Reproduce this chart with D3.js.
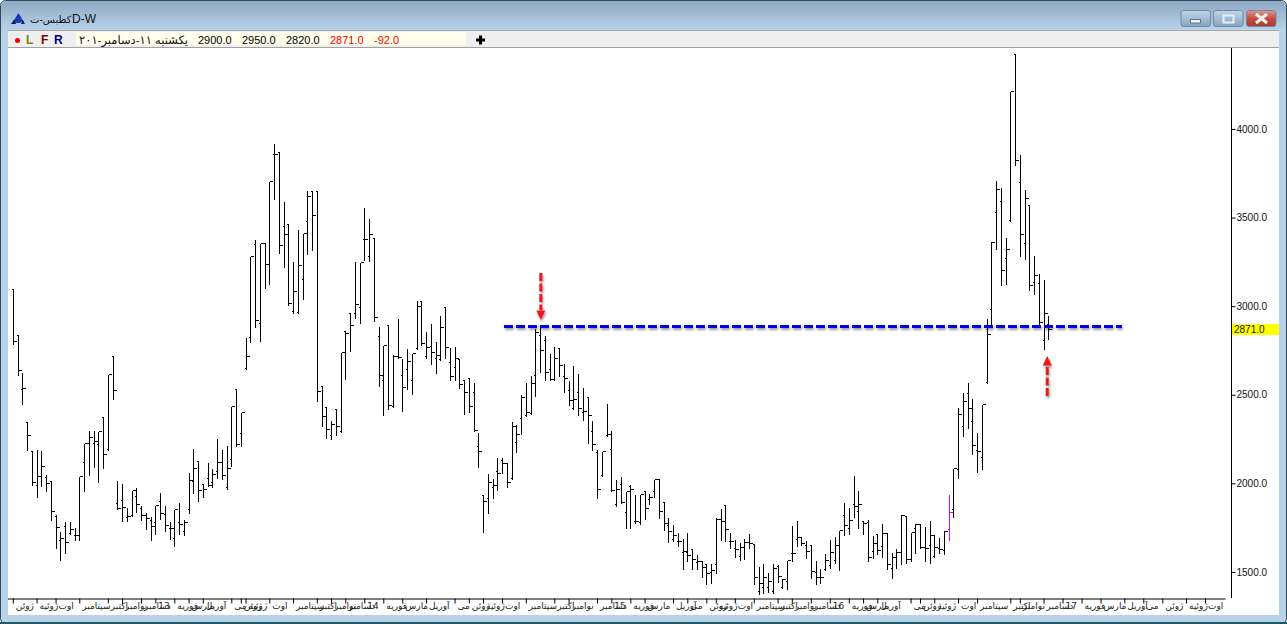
<!DOCTYPE html>
<html>
<head>
<meta charset="utf-8">
<title>D-W</title>
<script src="https://cdn.jsdelivr.net/npm/d3@7"></script>
<style>
  html, body { margin: 0; padding: 0; background: #fff; overflow: hidden; }
  svg { display: block; font-family: "Liberation Sans", "DejaVu Sans", sans-serif; }
</style>
</head>
<body>
<svg width="1287" height="624"></svg>
<script>
// weekly bars
const opens = [3095,2835,2532,2344,2183,1989,2040,2034,2011,1814,1678,1757,1718,1707,1707,2119,2226,2226,2220,2373,2192,2717,1887,1904,1808,1820,1927,1859,1820,1791,
  1780,1899,1825,1746,1690,1780,1729,1853,2011,2124,1995,2028,2006,2068,2119,1978,2136,2531,2282,2649,
  2824,3353,2903,3354,3236,3857,3868,3450,3462,2971,2965,3151,3479,3648,3648,2547,2429,2271,2418,2294,
  2858,2959,2959,2993,3377,3281,3383,2830,2581,2892,2435,2717,2610,2643,2581,2762,3027,2717,2773,2705,
  2700,2993,2683,2655,2700,2581,2593,2514,2210,1933,1916,1978,2068,2131,2114,2029,2232,2368,2384,2396,
  2610,2836,2808,2644,2588,2763,2605,2526,2424,2514,2401,2486,2294,2176,2046,2272,2193,1882,1995,1837,
  1984,1786,1781,1956,1910,1956,2023,1893,1764,1685,1673,1611,1611,1628,1555,1562,1543,1502,1543,1797,
  1876,1673,1635,1592,1639,1667,1656,1395,1417,1417,1391,1534,1417,1447,1605,1684,1699,1652,1652,1502,
  1470,1515,1538,1568,1650,1822,1746,1884,1844,1790,1784,1618,1714,1649,1722,1521,1583,1615,1816,1575,
  1746,1771,1643,1652,1592,1634,1624,1743,1854,2081,2322,2508,2350,2186,2147,2572,2982,3530,3592,3270,
  3485,4421,3699,3355,3569,3135,3129,2807,2900];
const highs = [3095,2835,2627,2344,2183,2192,2186,2051,2011,1825,1729,1786,1786,1752,2040,2226,2299,2299,2294,2373,2615,2717,2017,2000,1865,1961,1978,1876,1837,1814,
  1876,1949,1876,1786,1853,1893,1797,2062,2198,2128,1995,2119,2085,2254,2192,2215,2435,2531,2401,2824,
  3281,3377,3354,3354,3704,3919,3868,3591,3462,3253,3433,3411,3654,3648,3648,2547,2429,2356,2418,2739,
  2858,2959,3253,3247,3558,3496,3383,2886,2779,2892,2728,2931,2705,2762,2734,3033,3027,2858,2903,2801,
  2948,2993,2768,2773,2700,2581,2593,2571,2289,1933,2057,2029,2147,2147,2114,2351,2334,2503,2571,2610,
  2875,2887,2836,2734,2774,2763,2678,2582,2667,2621,2542,2486,2356,2193,2181,2452,2300,2023,2040,1956,
  1995,1940,1939,1956,1944,2023,2023,1893,1809,1769,1724,1690,1724,1628,1600,1562,1549,1549,1812,1859,
  1876,1728,1686,1667,1694,1718,1662,1534,1549,1502,1549,1545,1464,1568,1765,1792,1699,1681,1652,1568,
  1521,1605,1686,1703,1737,1895,1869,2047,1963,1790,1797,1709,1714,1775,1722,1615,1634,1827,1816,1728,
  1775,1771,1760,1792,1714,1699,1737,1940,2085,2429,2514,2570,2480,2288,2446,2931,3369,3710,3671,3389,
  4213,4421,3857,3660,3569,3287,3186,3152,2950];
const lows = [2790,2615,2452,2192,1995,1931,1993,1964,1801,1643,1571,1615,1718,1688,1684,1964,2055,2100,2015,2090,2192,2480,1859,1791,1791,1820,1842,1797,1746,1684,
  1718,1803,1735,1694,1650,1718,1712,1837,1949,1904,1927,1989,1983,2034,2028,1972,2102,2215,2215,2649,
  2801,2888,2809,3110,3133,3612,3304,3228,3010,2969,2965,3048,3302,3324,2472,2327,2260,2254,2277,2294,
  2596,2754,2937,2909,3264,3259,2920,2557,2393,2423,2435,2711,2412,2536,2508,2762,2785,2711,2677,2627,
  2700,2711,2587,2587,2542,2395,2406,2300,2100,1730,1837,1922,1967,2063,1984,2029,2181,2283,2384,2396,
  2497,2633,2588,2588,2588,2610,2520,2447,2424,2390,2362,2232,2193,1922,2046,2272,1961,1877,1893,1752,
  1752,1781,1775,1803,1888,1927,1809,1741,1673,1679,1651,1521,1566,1521,1521,1479,1436,1445,1502,1688,
  1679,1639,1592,1575,1581,1639,1436,1383,1387,1395,1389,1449,1413,1412,1568,1654,1658,1585,1474,1440,
  1442,1515,1530,1558,1515,1714,1718,1818,1752,1718,1568,1587,1605,1590,1521,1474,1530,1553,1558,1568,
  1615,1639,1568,1558,1590,1615,1609,1686,1818,2038,2275,2316,2169,2068,2085,2572,2899,3327,3124,3133,
  3485,3801,3287,3270,3095,3073,2903,2766,2820];
const closes = [2805,2638,2536,2271,2006,2043,2096,2000,1842,1752,1690,1667,1741,1707,2040,2226,2260,2237,2294,2164,2615,2525,1859,1865,1814,1961,1882,1820,1803,1757,
  1876,1831,1763,1746,1853,1769,1780,2017,2085,1961,1966,1989,2051,2119,2045,2085,2435,2220,2401,2717,
  3281,2920,3354,3236,3704,3857,3343,3405,3016,3084,3230,3411,3620,3512,2519,2378,2305,2333,2322,2739,
  2847,2892,3010,3247,3377,3405,2937,2610,2779,2440,2717,2711,2542,2689,2734,2999,2790,2768,2739,2722,
  2880,2768,2604,2705,2559,2514,2435,2300,2181,1899,2006,1989,2057,2114,2006,2322,2277,2486,2401,2565,
  2857,2751,2627,2588,2706,2667,2593,2469,2475,2424,2407,2384,2221,1967,2181,2277,1961,1967,1893,1956,
  1967,1786,1939,1860,1922,2023,1843,1775,1730,1707,1673,1617,1594,1572,1561,1526,1492,1511,1797,1786,
  1741,1673,1628,1639,1667,1662,1470,1436,1474,1451,1521,1479,1459,1568,1605,1699,1666,1618,1506,1470,
  1470,1568,1611,1650,1737,1765,1793,1874,1884,1775,1587,1662,1624,1722,1545,1583,1615,1822,1575,1728,
  1771,1643,1634,1709,1639,1628,1733,1840,2085,2389,2463,2423,2214,2181,2446,2841,3360,3660,3202,3321,
  4213,3823,3406,3608,3118,3174,2909,2960,2871];
const highlightBar = 197;

// y axis
const priceTicks = [1500, 2000, 2500, 3000, 3500, 4000];
const lastPrice = 2871;

// month ticks: bar number and label
const tickBars = [0,5,9,14,20,23,27,30,34,37,40,46,48,49,54,59,64,67,70,74,78,82,87,93,96,99,103,108,114,117,123,126,130,133,139,142,146,148,152,156,161,164,168,172,176,179,182,189,191,194,199,203,210,212,217,221,225,229,234,238,242,247,251];
const tickLabels = ['ژوئن','ژوئیه','اوت','سپتامبر','اکتبر','نوامبر','دسامبر','13','فوریه','مارس','آوریل','می',
  'ژوئن','ژوئیه','اوت','سپتامبر','اکتبر','نوامبر','دسامبر','14','فوریه','مارس','آوریل','می',
  'ژوئن','ژوئیه','اوت','سپتامبر','اکتبر','نوامبر','دسامبر','15','فوریه','مارس','آوریل','می',
  'ژوئن','ژوئیه','اوت','سپتامبر','اکتبر','نوامبر','دسامبر','16','فوریه','مارس','آوریل','می',
  'ژوئن','ژوئیه','اوت','سپتامبر','اکتبر','نوامبر','دسامبر','17','فوریه','مارس','آوریل','می',
  'ژوئن','ژوئیه','اوت'];

// annotations drawn on top of the chart
const levelPrice = 2885;
const levelBars = [103.3, 233.4];
const arrowDown = { bar: 111, from: 3187, to: 2922 };
const arrowUp = { bar: 217.6, from: 2493, to: 2719 };

const headerValues = ['2900.0', '2950.0', '2820.0', '2871.0', '-92.0'];
const headerColors = ['#000', '#000', '#000', '#f00', '#f00'];

const svg = d3.select('svg');

const defs = svg.append('defs');
const titleGrad = defs.append('linearGradient').attr('id', 'titleGrad').attr('x1', 0).attr('x2', 0).attr('y1', 0).attr('y2', 1);
titleGrad.append('stop').attr('offset', '0%').attr('stop-color', '#8fa9c4');
titleGrad.append('stop').attr('offset', '100%').attr('stop-color', '#b8d2ea');
const btnGrad = defs.append('linearGradient').attr('id', 'btnGrad').attr('x1', 0).attr('x2', 0).attr('y1', 0).attr('y2', 1);
btnGrad.append('stop').attr('offset', '0%').attr('stop-color', '#c3d5e6');
btnGrad.append('stop').attr('offset', '50%').attr('stop-color', '#a4bdd6');
btnGrad.append('stop').attr('offset', '100%').attr('stop-color', '#86a3c0');
const closeGrad = defs.append('linearGradient').attr('id', 'closeGrad').attr('x1', 0).attr('x2', 0).attr('y1', 0).attr('y2', 1);
closeGrad.append('stop').attr('offset', '0%').attr('stop-color', '#dd9a8e');
closeGrad.append('stop').attr('offset', '50%').attr('stop-color', '#c54f3d');
closeGrad.append('stop').attr('offset', '100%').attr('stop-color', '#a83a2a');
const shadow = defs.append('filter').attr('id', 'shadow')
  .attr('filterUnits', 'userSpaceOnUse').attr('x', 0).attr('y', 0).attr('width', 1287).attr('height', 624);
shadow.append('feDropShadow').attr('dx', 1).attr('dy', 2).attr('stdDeviation', 1.3).attr('flood-color', '#000').attr('flood-opacity', 0.4);

// ---- window frame
svg.append('rect').attr('x', 0.5).attr('y', 0.5).attr('width', 1286).attr('height', 623).attr('rx', 5)
  .attr('fill', '#b8d2ea').attr('stroke', '#2f4a57');
svg.append('path').attr('d', 'M1,30V6Q1,1 6,1H1281Q1286,1 1286,6V30Z').attr('fill', 'url(#titleGrad)');
svg.append('rect').attr('x', 8).attr('y', 48).attr('width', 1271).attr('height', 567).attr('fill', '#fff');
svg.append('rect').attr('x', 0).attr('y', 622).attr('width', 1287).attr('height', 2).attr('fill', '#1f5a66');

// title
svg.append('path').attr('d', 'M18.5,13C20,16 22,17 22,20.5C22,22 21,23 18,23C15,23 14.5,22 14.5,20.5C14.5,18 17,16 18.5,13Z').attr('fill', '#1b38b8');
svg.append('path').attr('d', 'M11,24L14.5,19L16,24ZM21,24L22.5,19L25,24Z').attr('fill', '#10205c');
svg.append('text').attr('x', 30).attr('y', 23).attr('font-size', 10).attr('fill', '#111').text('کطبس-ت');
svg.append('text').attr('x', 72).attr('y', 23).attr('font-size', 12).attr('fill', '#111').text('D-W');

// window buttons
[[1181, 'url(#btnGrad)'], [1213.5, 'url(#btnGrad)'], [1246.5, 'url(#closeGrad)']].forEach(b => {
  svg.append('rect').attr('x', b[0]).attr('y', 10.5).attr('width', 29.5).attr('height', 16).attr('rx', 2.5)
    .attr('fill', b[1]).attr('stroke', '#6f8aa5');
});
svg.append('rect').attr('x', 1190.5).attr('y', 19.5).attr('width', 10).attr('height', 3.5).attr('fill', '#eef2f6').attr('stroke', '#5f7690');
svg.append('rect').attr('x', 1223.5).attr('y', 15.5).attr('width', 10).attr('height', 7).attr('fill', 'none').attr('stroke', '#e8eef4').attr('stroke-width', 2);
svg.append('path').attr('d', 'M1256,14L1267,23M1267,14L1256,23').attr('stroke', '#f2f2f2').attr('stroke-width', 3);

// ---- tool strip
svg.append('rect').attr('x', 8).attr('y', 31).attr('width', 1271).attr('height', 16).attr('fill', '#efefef');
svg.append('line').attr('x1', 8).attr('x2', 1279).attr('y1', 30.5).attr('y2', 30.5).attr('stroke', '#a8a8a8');
svg.append('line').attr('x1', 8).attr('x2', 1279).attr('y1', 47.5).attr('y2', 47.5).attr('stroke', '#a0a0a0');
svg.append('rect').attr('x', 76).attr('y', 32).attr('width', 390).attr('height', 13).attr('fill', '#ffffec');
svg.append('circle').attr('cx', 17.5).attr('cy', 40.5).attr('r', 2.5).attr('fill', '#f00000');
[['L', 26, '#808000'], ['F', 41, '#800000'], ['R', 54, '#000080']].forEach(t => {
  svg.append('text').attr('x', t[1]).attr('y', 44).attr('font-size', 12).attr('font-weight', 'bold').attr('fill', t[2]).text(t[0]);
});
svg.append('text').attr('x', 188).attr('y', 44).attr('font-size', 11.5).attr('fill', '#111')
  .style('direction', 'rtl').text('یکشنبه ١١-دسامبر-٢٠١');
svg.selectAll('.header-value')
  .data(headerValues)
  .enter()
  .append('text')
  .attr('class', 'header-value')
  .attr('x', (d, i) => 198 + i * 44)
  .attr('y', 44)
  .attr('font-size', 11)
  .attr('fill', (d, i) => headerColors[i])
  .text(d => d);
svg.append('path').attr('d', 'M480.5,35.5V44.5M476,40H485').attr('stroke', '#000').attr('stroke-width', 3);

// ---- scales
const x = d3.scaleLinear().domain([0, 253]).range([13.3, 1215.05]);
const y = d3.scaleLinear().domain([1353, 4457]).range([598, 48]);
const barX = i => Math.floor(x(i)) + 0.5;
const priceY = v => Math.round(y(v)) + 0.5;

// ---- axes
const xAxis = d3.axisBottom(x).tickValues(tickBars).tickSize(5).tickFormat((d, i) => tickLabels[i]);
const gx = svg.append('g').attr('transform', 'translate(0,598.5)').call(xAxis);
gx.select('.domain').attr('d', 'M8,0.5H1225.5').attr('stroke', '#000');
gx.selectAll('.tick line').attr('transform', 'translate(-0.5,0)');
gx.selectAll('.tick text')
  .attr('x', 2)
  .attr('y', 4)
  .attr('text-anchor', 'start')
  .attr('font-size', 9)
  .attr('font-family', '"DejaVu Sans", sans-serif')
  .attr('fill', '#222');

const yAxis = d3.axisRight(y).tickValues(priceTicks).tickSize(4).tickPadding(1).tickFormat(d3.format('.1f'));
const gy = svg.append('g').attr('transform', 'translate(1231.5,0)').call(yAxis);
gy.select('.domain').attr('d', 'M0,48V598').attr('stroke', '#000');
gy.selectAll('.tick text')
  .attr('font-size', 10)
  .attr('font-family', '"Liberation Sans", sans-serif')
  .attr('fill', '#111');

svg.append('rect').attr('x', 1232).attr('y', y(lastPrice) - 5).attr('width', 47).attr('height', 11).attr('fill', '#ffff00');
svg.append('text').attr('x', 1234).attr('y', y(lastPrice) + 4).attr('font-size', 10).attr('fill', '#111').text(lastPrice.toFixed(1));

// ---- bars
const bars = svg.append('g').attr('shape-rendering', 'crispEdges');
const barColor = (d, i) => i === highlightBar ? '#e010e0' : '#000';

bars.selectAll('.bar-range')
  .data(highs)
  .enter()
  .append('line')
  .attr('class', 'bar-range')
  .attr('x1', (d, i) => barX(i))
  .attr('x2', (d, i) => barX(i))
  .attr('y1', d => priceY(d))
  .attr('y2', (d, i) => priceY(lows[i]) + 1)
  .attr('stroke', barColor);

bars.selectAll('.bar-open')
  .data(opens)
  .enter()
  .append('line')
  .attr('class', 'bar-open')
  .attr('x1', (d, i) => barX(i) - 2)
  .attr('x2', (d, i) => barX(i))
  .attr('y1', d => priceY(d))
  .attr('y2', d => priceY(d))
  .attr('stroke', barColor);

bars.selectAll('.bar-close')
  .data(closes)
  .enter()
  .append('line')
  .attr('class', 'bar-close')
  .attr('x1', (d, i) => barX(i))
  .attr('x2', (d, i) => barX(i) + 3)
  .attr('y1', d => priceY(d))
  .attr('y2', d => priceY(d))
  .attr('stroke', barColor);

// ---- level line and arrows
svg.append('line')
  .attr('x1', x(levelBars[0]))
  .attr('x2', x(levelBars[1]))
  .attr('y1', y(levelPrice))
  .attr('y2', y(levelPrice))
  .attr('stroke', '#0000e6')
  .attr('stroke-width', 3)
  .attr('stroke-dasharray', '9,3')
  .attr('filter', 'url(#shadow)');

function drawArrow(a) {
  const ax = x(a.bar) + 0.3;
  const tip = y(a.to);
  const dir = Math.sign(y(a.to) - y(a.from));
  const g = svg.append('g').attr('filter', 'url(#shadow)');
  g.append('line')
    .attr('x1', ax)
    .attr('x2', ax)
    .attr('y1', y(a.from))
    .attr('y2', tip - dir * 10)
    .attr('stroke', '#f01414')
    .attr('stroke-width', 3)
    .attr('stroke-dasharray', '8,2.5');
  g.append('path')
    .attr('d', `M${ax},${tip}L${ax - 4.5},${tip - dir * 9.5}H${ax + 4.5}Z`)
    .attr('fill', '#f01414');
}
drawArrow(arrowDown);
drawArrow(arrowUp);
</script>
</body>
</html>
